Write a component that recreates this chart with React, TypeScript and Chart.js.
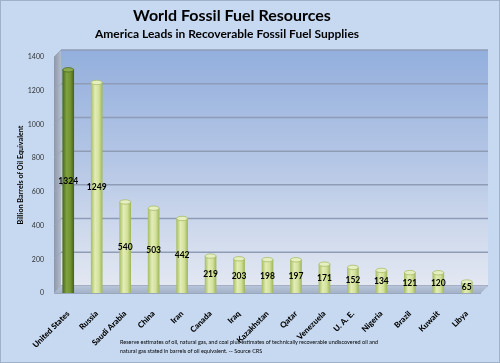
import React, { useEffect, useRef } from "react";
import { Chart, registerables } from "chart.js";

Chart.register(...registerables);

const categories = [
  "United States", "Russia", "Saudi Arabia", "China", "Iran", "Canada", "Iraq",
  "Kazakhstan", "Qatar", "Venezuela", "U. A. E.", "Nigeria", "Brazil", "Kuwait", "Libya",
];
const values = [1324, 1249, 540, 503, 442, 219, 203, 198, 197, 171, 152, 134, 121, 120, 65];
const yTicks = [0, 200, 400, 600, 800, 1000, 1200, 1400];

const titleText = "World Fossil Fuel Resources";
const subtitleText = "America Leads in Recoverable Fossil Fuel Supplies";
const yTitle = "Billion Barrels of Oil Equivalent";
const noteLines = [
  "Reserve estimates of oil, natural gas, and coal plus estimates of technically recoverable undiscovered oil and",
  "natural gas stated in barrels of oil equivalent.  -- Source CRS",
];

const DEPTH = 7;
const FONT = "Lato, 'Noto Sans', sans-serif";

const wallPlugin = {
  id: "wall3d",
  beforeDatasetsDraw(chart: any) {
    const { ctx, chartArea, scales } = chart;
    const { left, right, top, bottom } = chartArea;
    const y = scales.y;
    ctx.save();
    const g = ctx.createLinearGradient(0, top - DEPTH, 0, bottom - DEPTH);
    g.addColorStop(0, "#93afdd");
    g.addColorStop(0.5, "#b7c8e6");
    g.addColorStop(1, "#e3e8f2");
    ctx.fillStyle = g;
    ctx.fillRect(left + DEPTH, top - DEPTH, right - left, bottom - top);
    const sg = ctx.createLinearGradient(left, 0, left + DEPTH, 0);
    sg.addColorStop(0, "#8c97a8");
    sg.addColorStop(1, "#b4bccb");
    ctx.fillStyle = sg;
    ctx.beginPath();
    ctx.moveTo(left, top);
    ctx.lineTo(left + DEPTH, top - DEPTH);
    ctx.lineTo(left + DEPTH, bottom - DEPTH);
    ctx.lineTo(left, bottom);
    ctx.closePath();
    ctx.fill();
    yTicks.forEach((v) => {
      const py = y.getPixelForValue(v) - DEPTH;
      ctx.strokeStyle = "#8f9cb6";
      ctx.lineWidth = 1.5;
      ctx.beginPath();
      ctx.moveTo(left + DEPTH, py);
      ctx.lineTo(right + DEPTH, py);
      ctx.stroke();
      const fy = y.getPixelForValue(v);
      ctx.strokeStyle = "#9aa6ba";
      ctx.lineWidth = 1;
      ctx.beginPath();
      ctx.moveTo(left, fy);
      ctx.lineTo(left + DEPTH, fy - DEPTH);
      ctx.stroke();
    });
    const fg = ctx.createLinearGradient(0, bottom - DEPTH, 0, bottom);
    fg.addColorStop(0, "#b7c4d9");
    fg.addColorStop(1, "#a3b2c9");
    ctx.fillStyle = fg;
    ctx.beginPath();
    ctx.moveTo(left, bottom);
    ctx.lineTo(right, bottom);
    ctx.lineTo(right + DEPTH, bottom - DEPTH);
    ctx.lineTo(left + DEPTH, bottom - DEPTH);
    ctx.closePath();
    ctx.fill();
    ctx.strokeStyle = "#9aa6ba";
    ctx.lineWidth = 1;
    ctx.beginPath();
    ctx.moveTo(left, bottom + 0.5);
    ctx.lineTo(right, bottom + 0.5);
    ctx.stroke();
    ctx.restore();
  },
  afterDatasetsDraw(chart: any) {
    const { ctx } = chart;
    const meta = chart.getDatasetMeta(0);
    ctx.save();
    meta.data.forEach((el: any, i: number) => {
      const w = el.width;
      ctx.beginPath();
      ctx.ellipse(el.x, el.y, w / 2, 2.2, 0, 0, Math.PI * 2);
      ctx.fillStyle = i === 0 ? "#8aab4a" : "#e6efc0";
      ctx.fill();
      ctx.strokeStyle = i === 0 ? "#4f6a22" : "#a8bd6a";
      ctx.lineWidth = 0.8;
      ctx.stroke();
      ctx.fillStyle = "#000";
      ctx.font = `bold 8.5px ${FONT}`;
      ctx.textAlign = "center";
      ctx.textBaseline = "middle";
      ctx.fillText(String(values[i]), el.x, (el.y + el.base) / 2);
    });
    ctx.restore();
  },
};

export default function App() {
  const ref = useRef<HTMLCanvasElement>(null);
  useEffect(() => {
    if (!ref.current) return;
    const chart = new Chart(ref.current, {
      type: "bar",
      data: {
        labels: categories,
        datasets: [
          {
            data: values,
            barThickness: 11,
            borderWidth: 0,
            backgroundColor: (c: any) => {
              const chart = c.chart;
              if (!chart.chartArea || c.dataIndex === undefined) return "#d4e29c";
              const x = chart.scales.x.getPixelForValue(c.dataIndex);
              const g = chart.ctx.createLinearGradient(x - 5.5, 0, x + 5.5, 0);
              if (c.dataIndex === 0) {
                g.addColorStop(0, "#4e6a1e");
                g.addColorStop(0.35, "#80a240");
                g.addColorStop(0.7, "#729432");
                g.addColorStop(1, "#4a6419");
              } else {
                g.addColorStop(0, "#a9bf66");
                g.addColorStop(0.35, "#e3edb5");
                g.addColorStop(0.7, "#d2e19a");
                g.addColorStop(1, "#a2b85e");
              }
              return g;
            },
          },
        ],
      },
      plugins: [wallPlugin],
      options: {
        responsive: false,
        animation: false,
        layout: { padding: { top: 57, right: 19, left: 0, bottom: 0 } },
        plugins: {
          legend: { display: false },
          tooltip: { enabled: false },
        },
        scales: {
          x: {
            grid: { display: false },
            border: { display: false },
            ticks: {
              autoSkip: false,
              maxRotation: 45,
              minRotation: 45,
              padding: 8,
              color: "#000",
              font: { family: FONT, size: 8, weight: "900" },
            },
            afterFit: (s: any) => {
              s.height = 70;
            },
          },
          y: {
            min: 0,
            max: 1400,
            grid: { display: false, drawTicks: false },
            border: { display: false },
            afterBuildTicks: (s: any) => {
              s.ticks = yTicks.map((v) => ({ value: v }));
            },
            ticks: {
              padding: 10,
              color: "#333",
              font: { family: FONT, size: 7 },
              callback: (v: any) => String(v),
            },
            title: {
              display: true,
              text: yTitle,
              color: "#000",
              padding: { top: 16, bottom: 0 },
              font: { family: FONT, size: 7.2, weight: "bold" },
            },
            afterFit: (s: any) => {
              s.width = 54;
            },
          },
        },
      },
    } as any);
    return () => chart.destroy();
  }, []);

  return (
    <div
      style={{
        position: "absolute",
        left: 0,
        top: 0,
        width: 500,
        height: 363,
        background: "#c6d9f1",
        boxSizing: "border-box",
        border: "1px solid #9fb1c9",
        overflow: "hidden",
        fontFamily: FONT,
      }}
    >
      <canvas ref={ref} width={500} height={363} style={{ position: "absolute", left: -1, top: -1 }} />
      <div
        style={{
          position: "absolute",
          left: 0,
          width: 462,
          top: 3,
          textAlign: "center",
          fontWeight: "bold",
          fontSize: 16,
          lineHeight: "22px",
          color: "#000",
        }}
      >
        {titleText}
      </div>
      <div
        style={{
          position: "absolute",
          left: 0,
          width: 452,
          top: 25,
          textAlign: "center",
          fontWeight: "bold",
          fontSize: 12,
          lineHeight: "16px",
          color: "#000",
        }}
      >
        {subtitleText}
      </div>
      <div
        style={{
          position: "absolute",
          left: 119,
          top: 337,
          fontSize: 5.5,
          lineHeight: "9px",
          color: "#000",
          whiteSpace: "nowrap",
        }}
      >
        {noteLines.map((l, i) => (
          <div key={i}>{l}</div>
        ))}
      </div>
    </div>
  );
}
